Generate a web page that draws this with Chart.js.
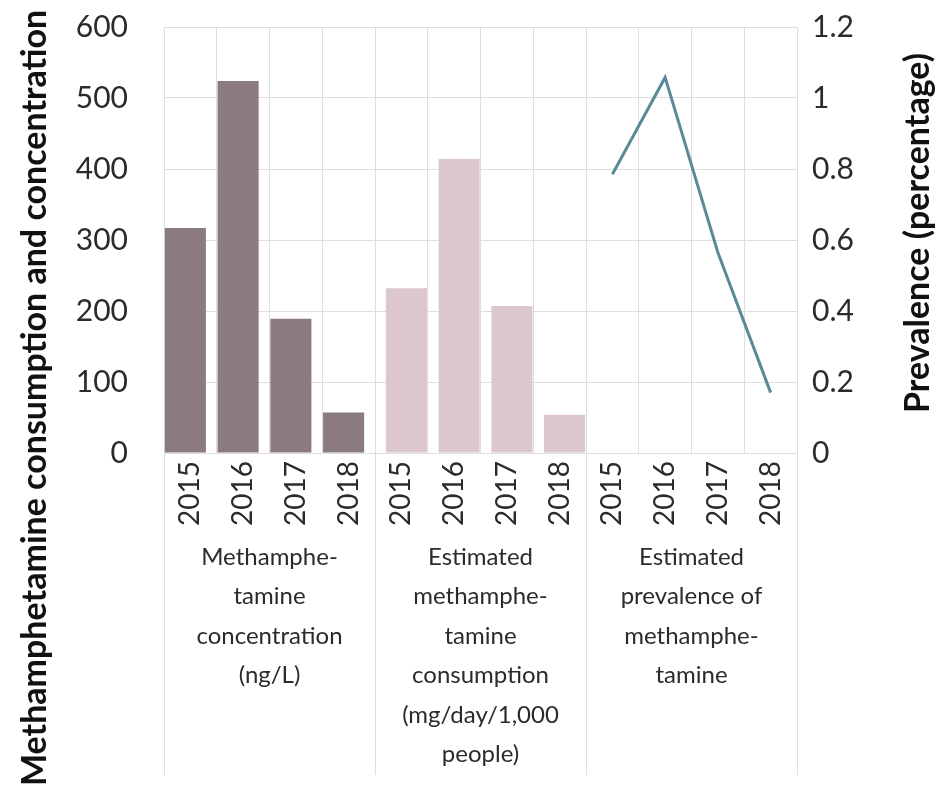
<!DOCTYPE html>
<html>
<head>
<meta charset="utf-8">
<script src="https://cdn.jsdelivr.net/npm/chart.js@4.4.1/dist/chart.umd.min.js"></script>
<style>
  html, body { margin: 0; padding: 0; background: #fff; }
  #wrap { width: 944px; height: 791px; position: relative; }
</style>
</head>
<body>
<div id="wrap"><canvas id="chart"></canvas></div>
<script>
// data
const years = ['2015', '2016', '2017', '2018', '2015', '2016', '2017', '2018', '2015', '2016', '2017', '2018'];
const concentration = [317, 524, 189, 57];   // ng/L
const consumption = [232, 414, 207, 54];     // mg/day/1,000 people
const prevalence = [0.785, 1.058, 0.565, 0.17]; // percentage
const groupLabels = [
    ['Methamphe-', 'tamine', 'concentration', '(ng/L)'],
    ['Estimated', 'methamphe-', 'tamine', 'consumption', '(mg/day/1,000', 'people)'],
    ['Estimated', 'prevalence of', 'methamphe-', 'tamine']
];
const leftTicks = [0, 100, 200, 300, 400, 500, 600];
const rightTicks = [0, 0.2, 0.4, 0.6, 0.8, 1, 1.2];
const leftTitle = 'Methamphetamine consumption and concentration';
const rightTitle = 'Prevalence (percentage)';

const FONT = 'Lato, "Open Sans", sans-serif';
const TXT = '#2b2b2b';
const GRID = '#dedede';

const pad4 = (arr, slot) => years.map((_, i) => (Math.floor(i / 4) === slot ? arr[i % 4] : null));

// group labels under the years + separators + axis titles
const groupPlugin = {
    id: 'groups',
    afterDraw(chart) {
        const ctx = chart.ctx;
        const x = chart.scales.x;
        const step = x.getPixelForValue(1) - x.getPixelForValue(0);
        const top = chart.chartArea.bottom;
        ctx.save();
        ctx.strokeStyle = GRID;
        ctx.lineWidth = 1;
        for (let g = 0; g <= 3; g++) {
            const px = Math.round(x.getPixelForValue(g * 4) - step / 2) + 0.5;
            ctx.beginPath();
            ctx.moveTo(px, top);
            ctx.lineTo(px, 775);
            ctx.stroke();
        }
        ctx.fillStyle = TXT;
        ctx.font = '24px ' + FONT;
        ctx.textAlign = 'center';
        ctx.textBaseline = 'middle';
        groupLabels.forEach((lines, g) => {
            const cx = x.getPixelForValue(g * 4) - step / 2 + step * 2;
            lines.forEach((t, k) => ctx.fillText(t, cx, 557 + k * 39.5));
        });

        ctx.fillStyle = '#111';
        ctx.font = 'bold 34px ' + FONT;
        ctx.translate(35, 398);
        ctx.rotate(-Math.PI / 2);
        ctx.fillText(leftTitle, 0, 0);
        ctx.setTransform(1, 0, 0, 1, 0, 0);
        ctx.translate(918, 233);
        ctx.rotate(-Math.PI / 2);
        ctx.fillText(rightTitle, 0, 0);
        ctx.restore();
    }
};

const noPad = s => { s.paddingTop = 0; s.paddingBottom = 0; s.paddingLeft = 0; s.paddingRight = 0; };

const ctx = document.getElementById('chart').getContext('2d');
new Chart(ctx, {
    data: {
        labels: years,
        datasets: [
            {
                type: 'bar',
                data: pad4(concentration, 0),
                backgroundColor: '#8b7a82',
                categoryPercentage: 0.38,
                barPercentage: 4.1,
                yAxisID: 'y'
            },
            {
                type: 'bar',
                data: pad4(consumption, 1),
                backgroundColor: '#dcc7cf',
                categoryPercentage: 0.38,
                barPercentage: 4.1,
                yAxisID: 'y'
            },
            {
                type: 'line',
                data: pad4(prevalence, 2),
                borderColor: '#5a8a99',
                borderWidth: 3,
                pointRadius: 0,
                tension: 0,
                yAxisID: 'y1'
            }
        ]
    },
    options: {
        responsive: true,
        maintainAspectRatio: false,
        animation: false,
        layout: { padding: { top: 27, left: 0, right: 0, bottom: 0 } },
        plugins: {
            legend: { display: false },
            tooltip: { enabled: false }
        },
        scales: {
            x: {
                grid: { color: GRID, drawTicks: false, offset: true },
                border: { color: GRID },
                ticks: {
                    color: TXT,
                    font: { family: FONT, size: 28 },
                    minRotation: 90,
                    maxRotation: 90,
                    padding: 8,
                    autoSkip: false
                },
                afterFit: s => { s.height = 338; noPad(s); }
            },
            y: {
                position: 'left',
                min: 0,
                max: 600,
                afterBuildTicks: s => { s.ticks = leftTicks.map(v => ({ value: v })); },
                grid: { color: GRID, drawTicks: false },
                border: { display: false },
                ticks: {
                    color: TXT,
                    font: { family: FONT, size: 30 },
                    padding: 36
                },
                afterFit: s => { s.width = 164; noPad(s); }
            },
            y1: {
                position: 'right',
                min: 0,
                max: 1.2,
                afterBuildTicks: s => { s.ticks = rightTicks.map(v => ({ value: v })); },
                grid: { drawOnChartArea: false, drawTicks: false },
                border: { display: false },
                ticks: {
                    color: TXT,
                    font: { family: FONT, size: 30 },
                    padding: 15,
                    callback: v => String(+Number(v).toFixed(1))
                },
                afterFit: s => { s.width = 147; noPad(s); }
            }
        }
    },
    plugins: [groupPlugin]
});
</script>
</body>
</html>
